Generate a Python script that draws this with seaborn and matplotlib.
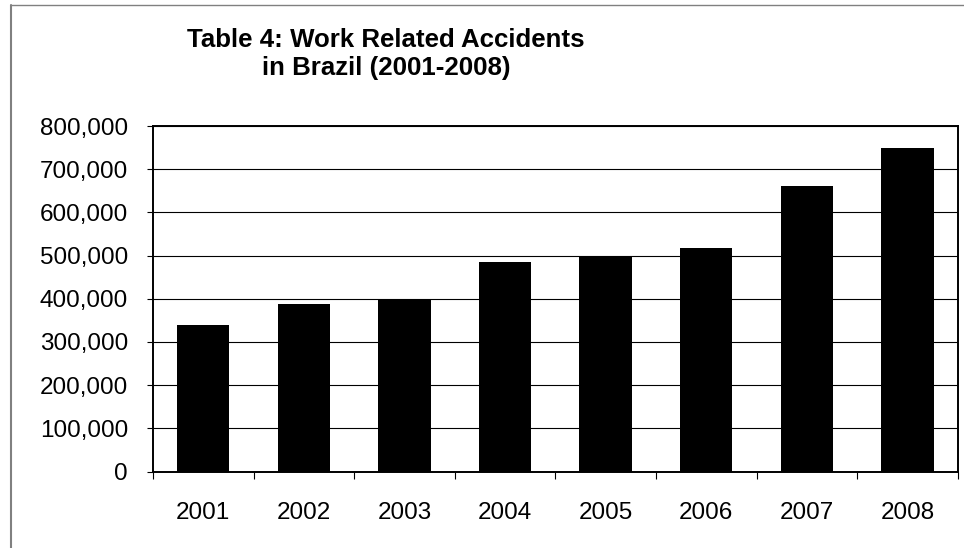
import matplotlib
matplotlib.use("Agg")
import matplotlib.pyplot as plt
import seaborn as sns
import pandas as pd
from matplotlib.ticker import FuncFormatter, FixedLocator
from matplotlib.lines import Line2D

years = ["2001", "2002", "2003", "2004", "2005", "2006", "2007", "2008"]
accidents = [340000, 388000, 400000, 485000, 500000, 518000, 660000, 748000]
title_lines = ["Table 4: Work Related Accidents", "in Brazil (2001-2008)"]

sns.set_theme(style="white")
plt.rcParams["font.family"] = ["Liberation Sans", "DejaVu Sans"]

W, H = 964, 548
fig = plt.figure(figsize=(W / 100, H / 100), dpi=100)
ax = fig.add_axes([153 / W, (H - 471.5) / H, (957.7 - 153) / W, (471.5 - 126) / H])

df = pd.DataFrame({"year": years, "accidents": accidents})
sns.barplot(data=df, x="year", y="accidents", color="black", saturation=1,
            width=0.52, edgecolor="black", linewidth=0, ax=ax, zorder=3)

ax.set_xlim(-0.5, len(years) - 0.5)
ax.set_ylim(0, 800000)
ax.set_xlabel("")
ax.set_ylabel("")

# y axis
ax.yaxis.set_major_locator(FixedLocator(list(range(0, 800001, 100000))))
ax.yaxis.set_major_formatter(FuncFormatter(lambda v, p: f"{int(v):,}"))
ax.tick_params(axis="y", which="major", direction="out", length=4.5, width=0.8,
               color="black", pad=13.5, labelsize=17.5, labelcolor="black", left=True)

# x axis: ticks at category boundaries, labels centered
ax.set_xticks([i - 0.5 for i in range(len(years) + 1)])
ax.set_xticklabels([])
ax.set_xticks(list(range(len(years))), minor=True)
ax.set_xticklabels(years, minor=True)
ax.tick_params(axis="x", which="major", direction="out", length=5.2, width=0.8,
               color="black", bottom=True)
ax.tick_params(axis="x", which="minor", length=0, pad=22, labelsize=17.5,
               labelcolor="black", bottom=True)

ax.grid(axis="y", color="black", linewidth=0.8, zorder=0)
ax.grid(axis="x", visible=False)
ax.set_axisbelow(True)
for s in ax.spines.values():
    s.set_visible(True)
    s.set_color("black")
    s.set_linewidth(1.4)
    s.set_zorder(4)

fig.text(386 / W, 1 - 47 / H, title_lines[0], ha="center", va="baseline",
         fontsize=18.6, fontweight="bold", color="black")
fig.text(386 / W, 1 - 75 / H, title_lines[1], ha="center", va="baseline",
         fontsize=18.6, fontweight="bold", color="black")

# chart-area border (grey), visible on left and top
fig.add_artist(Line2D([11 / W, 11 / W], [0, 1 - 5 / H], transform=fig.transFigure,
                      color="#808080", linewidth=1.5))
fig.add_artist(Line2D([11 / W, 1], [1 - 5.3 / H, 1 - 5.3 / H], transform=fig.transFigure,
                      color="#808080", linewidth=1.0))

fig.savefig("out.png", dpi=100, facecolor="white")
